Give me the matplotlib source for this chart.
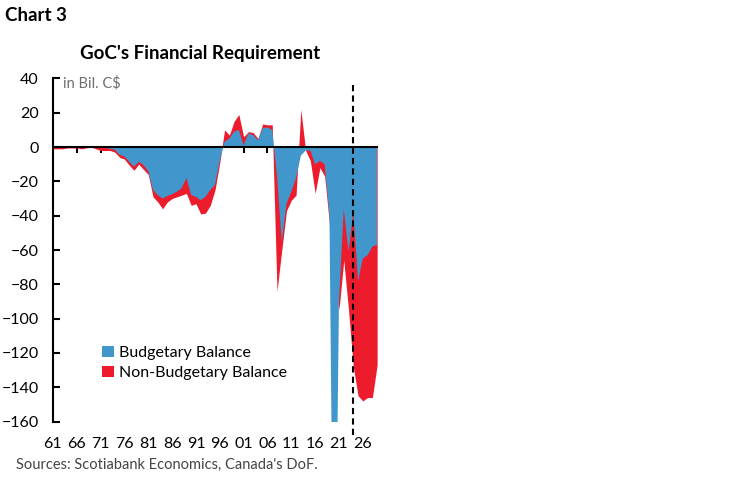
import matplotlib
matplotlib.use("Agg")
import matplotlib.pyplot as plt

plt.rcParams['font.family'] = ['Lato', 'DejaVu Sans']

# fiscal years (1961 ... 2029)
years = list(range(1961, 2030))

# budgetary balance, bil. C$
budgetary = [0, 0, 0, 0, 0, 0, 0, 0, 0, 0,
             -0.5, -0.5, -1, -1.5, -4.5, -5.5, -8.5, -11.5, -8.5, -10.5,
             -14, -25, -28, -30, -28.5, -27.5, -26, -24, -18, -28,
             -29, -31, -29, -25, -22, -8, 3, 5, 9, 10,
             1, 8, 7, 4, 11, 11.5, 10, -17, -55, -33,
             -26, -18, -5, -2, -2, -10, -8, -10, -40, -327,
             -90, -36, -61, -38, -78, -65, -63, -58, -57]

# total financial requirement (budgetary + non-budgetary), bil. C$
total = [-1, -1, -1, -0.5, -0.5, -0.5, -1, -0.5, 0, -1,
         -2, -2, -2, -3, -6, -7, -10.5, -13.5, -10, -13,
         -16, -29, -32, -36, -32, -30, -29, -28, -27, -34,
         -33, -39, -38.5, -34, -25, -9, 10, 7, 15, 19,
         6, 9, 8.5, 5, 13.5, 13, 13, -84, -60, -37,
         -31, -28, 22, -2, -8, -27, -12, -17, -45, -60,
         -95, -66, -95, -128, -145, -148, -146, -146, -127]

xlabels = ['61', '66', '71', '76', '81', '86', '91', '96', '01', '06', '11', '16', '21', '26']
xticks = list(range(1966, 2030, 5))
forecast_start = 2024

blue = '#4197CB'
red = '#EC1C2D'

fig = plt.figure(figsize=(7.48, 4.83), dpi=100)
# plot area from 40 down to -160
ax = fig.add_axes([0.0707, 0.1273, 0.5042 - 0.0707, 0.8375 - 0.1273])

ax.fill_between(years, 0, total, color=red, lw=0, label='Non-Budgetary Balance', zorder=2)
ax.fill_between(years, 0, budgetary, color=blue, lw=0, label='Budgetary Balance', zorder=3)

ax.set_xlim(1961, 2029)
ax.set_ylim(-160, 40)

# forecast marker, runs a little below the plot area
ax.vlines(forecast_start, -168, 38, colors='black', linestyles=(0, (3, 2)), lw=1.5,
          zorder=5, clip_on=False)

for s in ['top', 'right']:
    ax.spines[s].set_visible(False)
ax.spines['left'].set_linewidth(1.5)
ax.spines['bottom'].set_position(('data', 0))
ax.spines['bottom'].set_linewidth(1.5)
ax.spines['bottom'].set_zorder(4)

ax.set_yticks(range(-160, 41, 20))
ax.tick_params(axis='y', direction='in', length=5, width=1.5, pad=10, labelsize=11.5)
ax.set_xticks(xticks)
ax.tick_params(axis='x', direction='out', length=4, width=1.5, labelbottom=False)

sec = ax.secondary_xaxis(-0.04)
sec.set_xticks([1961] + xticks, labels=xlabels)
sec.tick_params(length=0, pad=1.5, labelsize=11.5)
sec.spines['bottom'].set_visible(False)

ax.text(1963.2, 37, 'in Bil. C$', color='#6e6e6e', fontsize=10.5, va='center')

ax.legend(handles=ax.get_legend_handles_labels()[0][::-1], frameon=False,
          loc='upper left', bbox_to_anchor=(0.137, 0.284), bbox_transform=fig.transFigure,
          borderpad=0, borderaxespad=0, handlelength=0.7, handleheight=0.7,
          handletextpad=0.35, labelspacing=0.35, fontsize=11.5)

fig.text(0.007, 0.968, 'Chart 3', fontsize=13.5, fontweight='bold', va='center')
fig.text(0.267, 0.890, "GoC's Financial Requirement", fontsize=13.5, fontweight='bold',
         ha='center', va='center')
fig.text(0.022, 0.037, "Sources: Scotiabank Economics, Canada's DoF.", fontsize=10.5,
         color='#444444', va='center')

fig.savefig('out.png', dpi=100)
